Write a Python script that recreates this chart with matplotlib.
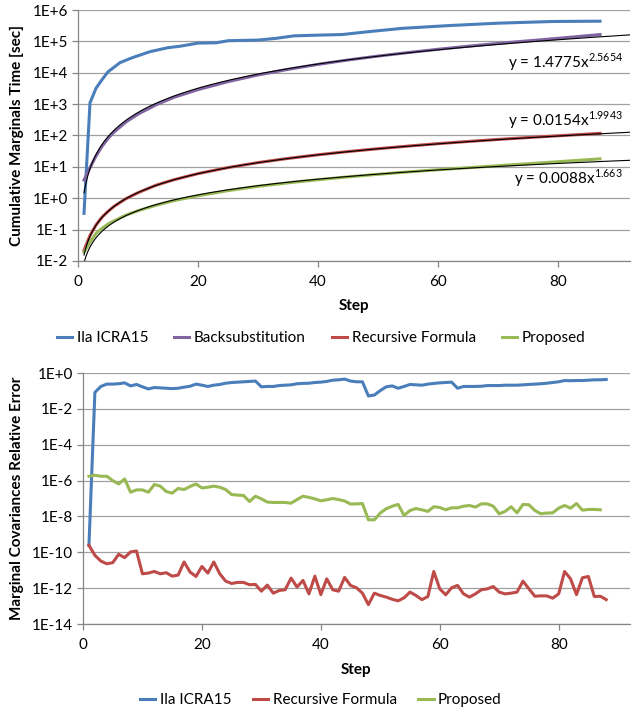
import matplotlib
matplotlib.use("Agg")
import matplotlib.pyplot as plt
import numpy as np
from matplotlib.ticker import FixedLocator, FuncFormatter
from matplotlib.lines import Line2D

plt.rcParams.update({"font.family": ["Lato", "DejaVu Sans"],
                     "font.size": 11,
                     "mathtext.fontset": "custom",
                     "mathtext.rm": "Lato",
                     "axes.edgecolor": "#868686",
                     "xtick.color": "#868686",
                     "ytick.color": "#868686",
                     "xtick.labelcolor": "black",
                     "ytick.labelcolor": "black"})

# ---- top chart: cumulative marginals time [sec] ----
ila_steps = [1, 2, 3, 4, 5, 7, 9, 12, 15, 17, 20, 23, 25, 30, 33, 36, 40, 44,
             48, 54, 62, 70, 79, 87]
ila_time = [0.33, 1100, 3200, 6000, 10700, 21000, 30000, 47000, 63000, 70000,
            88000, 90000, 105000, 110000, 125000, 150000, 158000, 165000,
            200000, 260000, 320000, 380000, 430000, 440000]

fit_steps = [1, 2, 3, 4, 5, 6, 8, 10, 13, 16, 20, 25, 30, 35, 40, 45, 50, 55,
             60, 65, 70, 75, 80, 87]
backsub_time = [3.8, 9.5, 22, 45, 80, 128, 270, 480, 950, 1650, 2900, 5200,
                8500, 12800, 18500, 25500, 34000, 44000, 56000, 70000, 86000,
                104000, 125000, 165000]
recursive_time = [0.022, 0.065, 0.14, 0.25, 0.38, 0.55, 0.97, 1.5, 2.6, 3.9,
                  6.1, 9.5, 13.7, 18.6, 24.3, 30.8, 38, 46, 55, 64.5, 75, 86,
                  98, 117]
proposed_time = [0.019, 0.04, 0.075, 0.11, 0.15, 0.19, 0.29, 0.40, 0.6, 0.84,
                 1.2, 1.75, 2.4, 3.1, 3.9, 4.8, 5.8, 6.9, 8.1, 9.4, 10.9, 12.6,
                 14.6, 18]

# power-law trendlines shown on the chart: (a, b) for y = a * x^b
trend_backsub = (1.4775, 2.5654)
trend_recursive = (0.0154, 1.9943)
trend_proposed = (0.0088, 1.663)

# ---- bottom chart: relative error, stored as log10 ----
ila_err_log10 = [-9.61, -1.08, -0.75, -0.62, -0.62, -0.60, -0.55, -0.72, -0.64, -0.77,
                 -0.89, -0.81, -0.83, -0.85, -0.87, -0.85, -0.79, -0.74, -0.62, -0.68,
                 -0.75, -0.68, -0.64, -0.57, -0.53, -0.51, -0.49, -0.47, -0.45, -0.77,
                 -0.75, -0.75, -0.70, -0.68, -0.66, -0.60, -0.58, -0.57, -0.53, -0.51,
                 -0.47, -0.40, -0.38, -0.34, -0.45, -0.49, -0.49, -1.28, -1.23, -0.98,
                 -0.77, -0.72, -0.85, -0.75, -0.64, -0.66, -0.68, -0.62, -0.58, -0.55,
                 -0.53, -0.51, -0.85, -0.75, -0.75, -0.75, -0.74, -0.70, -0.70, -0.70,
                 -0.68, -0.68, -0.68, -0.66, -0.64, -0.62, -0.60, -0.57, -0.53, -0.49,
                 -0.42, -0.43, -0.42, -0.42, -0.40, -0.38, -0.38, -0.36]
recursive_err_log10 = [-9.61, -10.17, -10.49, -10.64, -10.58, -10.11, -10.30, -9.98, -9.93, -11.20,
                       -11.16, -11.07, -11.20, -11.14, -11.33, -11.27, -10.54, -11.10, -11.35, -10.79,
                       -11.16, -10.54, -11.20, -11.61, -11.74, -11.68, -11.68, -11.81, -11.79, -12.17,
                       -11.83, -12.28, -12.13, -12.09, -11.44, -11.94, -11.57, -12.32, -11.33, -12.36,
                       -11.48, -12.09, -12.17, -11.40, -11.85, -11.98, -12.28, -12.92, -12.28, -12.41,
                       -12.50, -12.62, -12.71, -12.54, -12.22, -12.41, -12.64, -12.47, -11.07, -12.04,
                       -12.37, -11.98, -11.85, -12.32, -12.50, -12.32, -12.09, -12.04, -11.91, -12.22,
                       -12.32, -12.28, -12.22, -11.61, -12.04, -12.45, -12.43, -12.43, -12.56, -12.32,
                       -11.07, -11.48, -12.36, -11.42, -11.35, -12.47, -12.45, -12.64]
proposed_err_log10 = [-5.76, -5.70, -5.76, -5.76, -6.00, -6.19, -5.91, -6.65, -6.52, -6.52,
                      -6.65, -6.22, -6.31, -6.61, -6.70, -6.44, -6.50, -6.33, -6.19, -6.41,
                      -6.37, -6.31, -6.37, -6.50, -6.78, -6.81, -6.83, -7.17, -6.87, -7.02,
                      -7.20, -7.22, -7.22, -7.22, -7.26, -7.06, -6.87, -6.94, -7.02, -7.13,
                      -7.07, -7.00, -7.06, -7.14, -7.31, -7.30, -7.28, -8.19, -8.19, -7.81,
                      -7.57, -7.43, -7.33, -7.94, -7.67, -7.56, -7.63, -7.72, -7.46, -7.50,
                      -7.63, -7.52, -7.52, -7.43, -7.39, -7.48, -7.30, -7.30, -7.43, -7.85,
                      -7.72, -7.46, -7.80, -7.33, -7.35, -7.67, -7.85, -7.81, -7.80, -7.54,
                      -7.39, -7.54, -7.28, -7.65, -7.61, -7.61, -7.63]

blue = "#4a7ebb"
purple = "#8064a2"
red = "#be4b48"
green = "#98b954"
grid_col = "#a0a0a0"
W, H = 635, 710
FS = 11


def style_axis(ax, yticks):
    ax.set_yscale("log")
    ax.set_xlim(0, 92)
    ax.set_xticks([0, 20, 40, 60, 80])
    ax.yaxis.set_major_locator(FixedLocator(yticks))
    ax.yaxis.set_minor_locator(FixedLocator([]))
    ax.yaxis.set_major_formatter(FuncFormatter(lambda v, p: "1E%+d" % round(np.log10(v))))
    ax.set_ylim(yticks[0], yticks[-1])
    ax.grid(axis="y", color=grid_col, lw=0.9)
    ax.set_axisbelow(True)
    for s in ["top", "right"]:
        ax.spines[s].set_visible(False)
    ax.spines["left"].set_linewidth(0.9)
    ax.spines["bottom"].set_linewidth(0.9)
    ax.tick_params(axis="y", length=4, width=0.9, pad=3, labelsize=FS)
    ax.tick_params(axis="x", length=4, width=0.9, pad=6, labelsize=FS)


fig = plt.figure(figsize=(W / 100, H / 100), dpi=100)

# top axes: x 78..630, y 10..261 px
ax1 = fig.add_axes([78 / W, 1 - 261 / H, 552 / W, 251 / H])
ax1.plot(ila_steps, ila_time, color=blue, lw=2.2, label="Ila ICRA15")
ax1.plot(fit_steps, backsub_time, color=purple, lw=2.2, label="Backsubstitution")
ax1.plot(fit_steps, recursive_time, color=red, lw=2.2, label="Recursive Formula")
ax1.plot(fit_steps, proposed_time, color=green, lw=2.2, label="Proposed")
xt = np.linspace(1, 92, 300)
for a, b in [trend_backsub, trend_recursive, trend_proposed]:
    ax1.plot(xt, a * xt ** b, color="black", lw=0.8)
style_axis(ax1, [10.0 ** k for k in range(-2, 7)])

fig.text(623 / W, 1 - 62 / H, r"y = 1.4775x$^{\mathrm{2.5654}}$", ha="right", va="center", fontsize=FS)
fig.text(623 / W, 1 - 120 / H, r"y = 0.0154x$^{\mathrm{1.9943}}$", ha="right", va="center", fontsize=FS)
fig.text(623 / W, 1 - 178 / H, r"y = 0.0088x$^{\mathrm{1.663}}$", ha="right", va="center", fontsize=FS)

fig.text(17 / W, 1 - 135 / H, "Cumulative Marginals Time [sec]", rotation=90,
         ha="center", va="center", fontweight="bold", fontsize=FS)
fig.text(354 / W, 1 - 306 / H, "Step", ha="center", va="center", fontweight="bold", fontsize=FS)

h1 = [Line2D([], [], color=c, lw=2.2) for c in [blue, purple, red, green]]
fig.legend(h1, ["Ila ICRA15", "Backsubstitution", "Recursive Formula", "Proposed"],
           loc="center", bbox_to_anchor=(321 / W, 1 - 338 / H), ncol=4, frameon=False,
           handlelength=1.0, handletextpad=0.3, columnspacing=1.7, fontsize=FS)

# bottom axes: x 83..630, y 373..624 px
ax2 = fig.add_axes([83 / W, 1 - 624 / H, 547 / W, 251 / H])
steps88 = np.arange(1, len(ila_err_log10) + 1)
ax2.plot(steps88, 10.0 ** np.array(ila_err_log10), color=blue, lw=2.2)
ax2.plot(steps88, 10.0 ** np.array(recursive_err_log10), color=red, lw=2.2)
ax2.plot(np.arange(1, len(proposed_err_log10) + 1), 10.0 ** np.array(proposed_err_log10),
         color=green, lw=2.2)
style_axis(ax2, [10.0 ** k for k in range(-14, 1, 2)])

fig.text(17 / W, 1 - 498 / H, "Marginal Covariances Relative Error", rotation=90,
         ha="center", va="center", fontweight="bold", fontsize=FS)
fig.text(356 / W, 1 - 670 / H, "Step", ha="center", va="center", fontweight="bold", fontsize=FS)

h2 = [Line2D([], [], color=c, lw=2.2) for c in [blue, red, green]]
fig.legend(h2, ["Ila ICRA15", "Recursive Formula", "Proposed"],
           loc="center", bbox_to_anchor=(321 / W, 1 - 700 / H), ncol=3, frameon=False,
           handlelength=1.0, handletextpad=0.3, columnspacing=1.4, fontsize=FS)

fig.savefig("out.png", dpi=100)
